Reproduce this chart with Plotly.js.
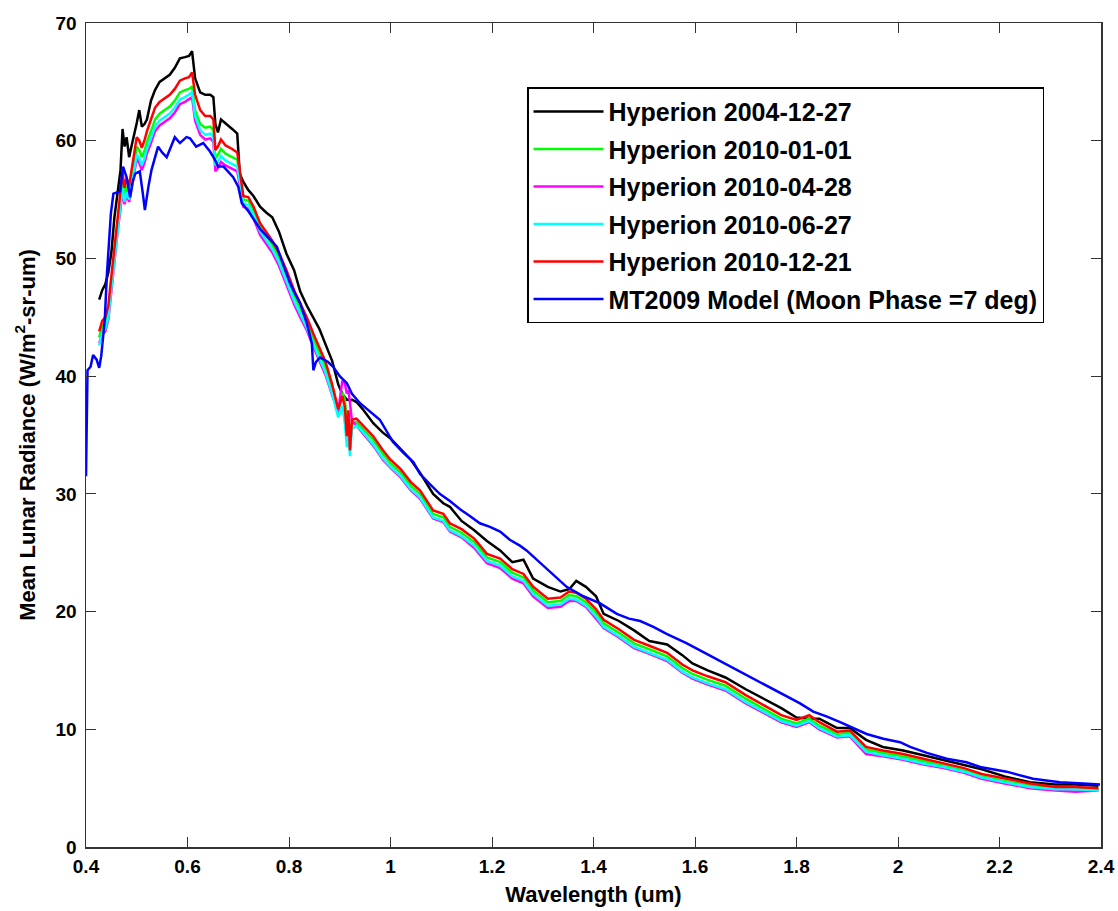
<!DOCTYPE html>
<html>
<head>
<meta charset="utf-8">
<script src="https://cdn.plot.ly/plotly-3.0.1.min.js"></script>
<style>html,body{margin:0;padding:0;background:#fff;}#chart{width:1118px;height:911px;}</style>
</head>
<body>
<div id="chart"></div>
<script>
// Hyperion band wavelengths (um)
const hypWavelength = [
 0.426,0.432,0.438,0.444,0.450,0.456,0.462,0.468,0.472,0.476,
 0.480,0.485,0.490,0.495,0.500,0.505,0.510,0.515,0.520,0.528,
 0.536,0.545,0.555,0.565,0.575,0.585,0.595,0.603,0.609,0.615,
 0.625,0.635,0.645,0.651,0.655,0.660,0.666,0.675,0.688,0.698,
 0.703,0.710,0.720,0.730,0.743,0.755,0.767,0.780,0.795,0.810,
 0.822,0.835,0.848,0.860,0.872,0.885,0.897,0.905,0.910,0.914,
 0.917,0.920,0.924,0.933,0.947,0.966,0.985,1.000,1.020,1.040,
 1.058,1.084,1.104,1.117,1.140,1.165,1.190,1.216,1.240,1.262,
 1.281,1.310,1.335,1.352,1.366,1.385,1.405,1.420,1.450,1.480,
 1.510,1.545,1.575,1.595,1.625,1.660,1.700,1.740,1.770,1.800,
 1.825,1.845,1.880,1.905,1.937,1.970,2.010,2.050,2.090,2.130,
 2.165,2.210,2.260,2.310,2.350,2.395];

const hyp20041227 = [
 46.5,47.3,47.8,48.8,50.5,53.5,55.5,57.5,61.0,59.5,
 60.3,58.6,59.6,60.5,61.5,62.6,61.2,61.4,61.8,63.4,
 64.3,65.0,65.3,65.6,66.2,67.0,67.1,67.2,67.6,65.3,
 64.1,63.9,63.9,63.7,61.4,60.7,61.8,61.5,61.0,60.6,
 57.2,56.5,55.8,55.3,54.4,53.9,53.5,52.3,50.4,49.0,
 47.2,46.0,45.0,44.0,42.7,41.3,39.3,38.5,38.2,38.0,
 38.0,37.9,38.0,37.8,37.1,36.0,35.2,34.7,33.8,32.9,
 31.8,30.0,29.2,28.9,27.7,26.9,26.0,25.2,24.2,24.4,
 22.8,22.1,21.7,21.9,22.6,22.1,21.3,19.8,19.2,18.4,
 17.5,17.2,16.3,15.6,15.0,14.4,13.4,12.5,11.8,11.0,
 10.9,10.9,10.1,10.1,9.1,8.5,8.2,7.8,7.4,7.0,
 6.6,6.0,5.5,5.3,5.3,5.2];

const hyp20100101 = [
 43.3,44.2,44.5,45.4,47.9,50.4,52.9,54.9,56.6,55.3,
 56.1,55.5,56.8,58.3,59.5,59.2,58.6,59.1,59.9,60.8,
 61.8,62.3,62.6,62.9,63.4,64.1,64.3,64.4,64.6,62.6,
 61.4,61.1,61.2,60.9,58.5,58.8,59.3,58.9,58.6,58.4,
 57.0,55.0,54.9,54.1,52.7,52.0,51.2,50.1,48.6,46.9,
 45.8,44.6,43.2,42.0,40.8,38.9,36.9,38.6,38.0,36.0,
 37.0,34.0,36.0,36.1,35.5,34.6,33.4,32.6,31.8,30.7,
 30.0,28.3,28.0,27.2,26.7,25.9,24.6,24.2,23.3,22.9,
 21.8,20.8,20.9,21.4,21.3,20.8,19.9,19.0,18.2,17.3,
 16.8,16.2,15.2,14.7,14.2,13.7,12.6,11.6,10.9,10.5,
 10.9,10.3,9.6,9.7,8.3,8.0,7.7,7.3,6.9,6.5,
 6.0,5.6,5.2,5.0,4.9,4.9];

const hyp20100428 = [
 42.8,43.5,43.8,44.8,47.2,49.8,52.2,54.2,55.7,54.6,
 55.4,54.8,56.0,57.4,58.5,58.1,57.5,58.1,58.9,59.8,
 60.8,61.3,61.6,61.9,62.4,63.1,63.3,63.5,63.7,61.7,
 60.5,60.1,60.2,59.9,57.4,57.7,58.2,57.9,57.6,57.4,
 56.3,54.4,54.2,53.4,52.0,51.3,50.5,49.4,47.8,46.1,
 45.0,43.9,42.5,41.3,40.1,38.4,37.0,39.6,39.4,38.5,
 38.8,37.8,36.2,35.8,35.1,34.1,32.9,32.2,31.4,30.3,
 29.6,27.9,27.6,26.8,26.3,25.4,24.1,23.7,22.8,22.4,
 21.3,20.3,20.4,20.9,20.9,20.4,19.4,18.6,17.8,16.9,
 16.4,15.8,14.8,14.3,13.8,13.3,12.2,11.3,10.6,10.2,
 10.6,10.0,9.3,9.4,7.9,7.7,7.4,7.0,6.7,6.3,
 5.8,5.4,5.0,4.8,4.7,4.8];

const hyp20100627 = [
 42.6,43.6,44.0,45.0,47.5,50.0,52.5,54.5,56.0,54.8,
 55.6,55.0,56.3,57.7,58.8,58.5,57.9,58.5,59.3,60.2,
 61.2,61.7,62.0,62.3,62.8,63.5,63.7,63.9,64.1,62.1,
 60.9,60.5,60.6,60.3,57.9,58.2,58.7,58.3,58.0,57.8,
 56.6,54.7,54.5,53.7,52.3,51.6,50.8,49.7,48.1,46.4,
 45.3,44.1,42.7,41.5,40.3,38.5,36.5,37.5,36.0,34.0,
 35.5,33.2,35.5,35.8,35.2,34.2,33.0,32.3,31.5,30.4,
 29.7,28.0,27.7,26.9,26.4,25.6,24.3,23.9,23.0,22.6,
 21.5,20.5,20.6,21.1,21.0,20.5,19.6,18.7,17.9,17.0,
 16.5,15.9,14.9,14.4,13.9,13.4,12.3,11.4,10.7,10.3,
 10.7,10.1,9.4,9.5,8.1,7.8,7.5,7.1,6.8,6.4,
 5.9,5.5,5.1,4.9,4.9,4.8];

const hyp20101221 = [
 43.8,44.7,45.0,46.0,48.5,51.0,53.5,55.5,57.3,56.0,
 56.8,56.2,57.5,59.0,60.3,60.0,59.4,60.0,60.8,61.8,
 62.8,63.3,63.6,63.9,64.4,65.1,65.3,65.4,65.8,63.9,
 62.6,62.1,62.1,61.8,59.2,59.5,60.1,59.6,59.3,59.0,
 57.5,55.3,55.2,54.4,53.0,52.3,51.5,50.5,49.0,47.3,
 46.2,45.0,43.6,42.4,41.2,39.3,37.2,38.3,37.4,34.9,
 37.1,33.7,36.3,36.4,35.8,34.9,33.7,32.9,32.1,31.0,
 30.3,28.6,28.3,27.5,27.0,26.2,24.9,24.5,23.6,23.2,
 22.1,21.1,21.2,21.7,21.6,21.1,20.2,19.3,18.5,17.6,
 17.1,16.5,15.5,15.0,14.5,14.0,12.9,11.9,11.2,10.8,
 11.2,10.6,9.8,9.9,8.5,8.2,7.9,7.5,7.1,6.7,
 6.2,5.8,5.4,5.1,5.1,5.0];

// MT2009 model
const mtWavelength = [
 0.400,0.401,0.403,0.409,0.414,0.421,0.426,0.430,0.432,0.437,
 0.441,0.445,0.449,0.454,0.462,0.467,0.473,0.480,0.487,0.492,
 0.497,0.506,0.512,0.516,0.523,0.529,0.542,0.550,0.559,0.568,
 0.575,0.585,0.598,0.605,0.617,0.631,0.644,0.654,0.660,0.671,
 0.690,0.700,0.707,0.720,0.730,0.743,0.756,0.776,0.790,0.802,
 0.812,0.822,0.835,0.845,0.848,0.853,0.861,0.877,0.887,0.900,
 0.914,0.924,0.940,0.960,0.979,1.005,1.025,1.045,1.058,1.078,
 1.097,1.117,1.137,1.157,1.176,1.196,1.216,1.235,1.255,1.268,
 1.288,1.305,1.321,1.347,1.380,1.413,1.446,1.470,1.492,1.518,
 1.544,1.584,1.623,1.662,1.702,1.741,1.765,1.787,1.807,1.833,
 1.859,1.886,1.912,1.938,1.971,2.004,2.024,2.057,2.096,2.135,
 2.162,2.214,2.266,2.319,2.365,2.398];
const mtRadiance = [
 31.5,36.0,40.5,40.8,41.8,41.4,40.7,41.7,42.8,44.8,
 48.5,51.5,53.8,55.5,55.6,55.7,57.8,56.9,55.2,56.5,
 57.2,57.4,55.5,54.1,56.1,57.5,59.5,59.0,58.6,59.5,
 60.3,59.8,60.3,60.2,59.5,59.8,59.1,58.4,57.8,57.8,
 56.9,56.1,54.7,54.0,53.3,52.5,51.9,51.0,49.3,47.9,
 47.0,46.2,44.5,42.8,40.5,41.2,41.6,41.2,40.8,40.0,
 39.4,38.5,37.7,37.0,36.3,34.4,33.5,32.7,31.7,30.8,
 30.0,29.4,28.7,28.1,27.5,27.2,26.8,26.1,25.6,25.2,
 24.4,23.8,23.1,22.1,21.3,20.7,19.8,19.4,19.2,18.7,
 18.1,17.3,16.4,15.5,14.6,13.7,13.1,12.6,12.2,11.5,
 11.1,10.6,10.1,9.6,9.2,8.9,8.5,8.0,7.5,7.2,
 6.8,6.4,5.8,5.5,5.4,5.3];

const seriesNames = ['Hyperion 2004-12-27','Hyperion 2010-01-01','Hyperion 2010-04-28',
  'Hyperion 2010-06-27','Hyperion 2010-12-21','MT2009 Model (Moon Phase =7 deg)'];
const seriesColors = ['#000000','#00ff00','#ff00ff','#00ffff','#ff0000','#0000ff'];
const seriesX = [hypWavelength,hypWavelength,hypWavelength,hypWavelength,hypWavelength,mtWavelength];
const seriesY = [hyp20041227,hyp20100101,hyp20100428,hyp20100627,hyp20101221,mtRadiance];

const FONT = 'Liberation Sans, Arial, Helvetica, sans-serif';
const traces = seriesNames.map((n,i)=>({
  type:'scatter', mode:'lines', name:n, x:seriesX[i], y:seriesY[i],
  legendgroup:'g'+i,
  line:{color:seriesColors[i], width:2.5, shape:'linear'}
}));

const axisCommon = {
  showline:true, mirror:'ticks', linecolor:'#333', linewidth:1.5,
  ticks:'inside', ticklen:10, tickwidth:1, tickcolor:'#333',
  showgrid:false, zeroline:false,
  tickfont:{family:FONT, size:19, color:'#000', weight:700}
};

const layout = {
  width:1118, height:911,
  margin:{l:86, r:17, t:23, b:64},
  paper_bgcolor:'#fff', plot_bgcolor:'#fff',
  showlegend:true,
  xaxis:Object.assign({}, axisCommon, {
    range:[0.4,2.4], tick0:0.4, dtick:0.2, ticklabelstandoff:2,
    title:{text:'Wavelength (um)', font:{family:FONT, size:22, color:'#000', weight:700}, standoff:10}
  }),
  yaxis:Object.assign({}, axisCommon, {
    range:[0,70], tick0:0, dtick:10, ticklabelstandoff:4,
    title:{text:'Mean Lunar Radiance (W/m<sup>2</sup>-sr-um)', font:{family:FONT, size:22, color:'#000', weight:700}, standoff:14}
  }),
  legend:{
    x:0.4345, y:0.922, xanchor:'left', yanchor:'top',
    bgcolor:'#fff', bordercolor:'#000', borderwidth:1.5,
    font:{family:FONT, size:25, color:'#000', weight:700},
    tracegroupgap:2, itemwidth:70
  }
};

Plotly.newPlot('chart', traces, layout, {displayModeBar:false, staticPlot:true});
</script>
</body>
</html>
